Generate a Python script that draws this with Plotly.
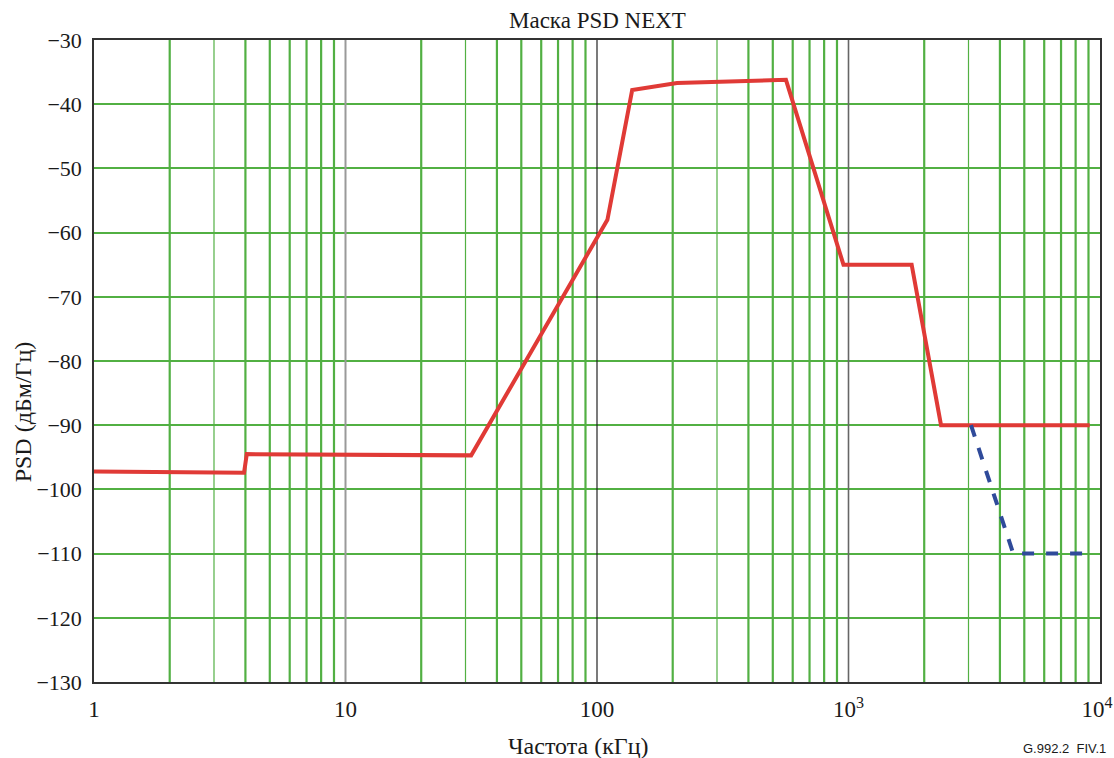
import plotly.graph_objects as go

# ---- data ----
red_x = [1, 3.95, 4.05, 31.6, 110, 138, 208, 564, 955, 1783, 2333, 9100]
red_y = [-97.2, -97.4, -94.5, -94.7, -58.0, -37.8, -36.7, -36.2, -65.0, -65.0, -90.0, -90.0]
blue_x = [3070, 4520, 9100]
blue_y = [-90.0, -110.0, -110.0]

y_ticks = [-30, -40, -50, -60, -70, -80, -90, -100, -110, -120, -130]
y_ticktext = ["\u2212" + str(abs(v)) for v in y_ticks]
x_ticks = [1, 10, 100, 1000, 10000]
x_ticktext = ["1", "10", "100", "10<sup>3</sup>", "10<sup>4</sup>&nbsp;"]

decades = [1, 10, 100, 1000]
minor_thick_mult = [2, 4, 5, 6, 7, 8, 9]
minor_thin_mult = [3]

GREEN = "#52b043"
YMIN, YMAX = -130, -30

fig = go.Figure()

def vlines(xs):
    X, Y = [], []
    for v in xs:
        X += [v, v, None]
        Y += [YMIN, YMAX, None]
    return X, Y

thick = [d * m for d in decades for m in minor_thick_mult]
thin = [d * m for d in decades for m in minor_thin_mult]
for xs, w in [(thick, 2.2), (thin, 1.2)]:
    X, Y = vlines(xs)
    fig.add_trace(go.Scatter(x=X, y=Y, mode="lines", line=dict(color=GREEN, width=w),
                             hoverinfo="skip", showlegend=False))
for xv, col, w in [(10, "#9a9a9a", 2), (100, "#222222", 1.2), (1000, "#666666", 1.6)]:
    X, Y = vlines([xv])
    fig.add_trace(go.Scatter(x=X, y=Y, mode="lines", line=dict(color=col, width=w),
                             hoverinfo="skip", showlegend=False))

fig.add_trace(go.Scatter(x=red_x, y=red_y, mode="lines",
                         line=dict(color="#e03a36", width=4), showlegend=False))
fig.add_trace(go.Scatter(x=blue_x, y=blue_y, mode="lines",
                         line=dict(color="#2f4a9a", width=4, dash="dash"), showlegend=False))

serif = "Liberation Serif, Times New Roman, serif"

fig.update_layout(
    width=1114, height=758, autosize=False,
    margin=dict(l=94, r=14, t=40, b=76),
    paper_bgcolor="white", plot_bgcolor="white",
    font=dict(family=serif, color="#1a1a1a"),
    showlegend=False,
    xaxis=dict(type="log", range=[0, 4], tickvals=x_ticks, ticktext=x_ticktext,
               automargin=False,
               showgrid=False, zeroline=False, showline=True, mirror=True,
               linecolor="#333333", linewidth=1.5, ticks="", ticklabelstandoff=6,
               ticklabeloverflow="allow",
               tickfont=dict(family=serif, size=23, color="#1a1a1a")),
    yaxis=dict(range=[YMIN, YMAX], tickvals=y_ticks, ticktext=y_ticktext,
               automargin=False,
               showgrid=True, gridcolor=GREEN, gridwidth=2, zeroline=False,
               showline=True, mirror=True, linecolor="#333333", linewidth=1.5,
               ticks="", ticklabelstandoff=6,
               tickfont=dict(family=serif, size=22, color="#1a1a1a")),
    annotations=[
        dict(text="Маска PSD NEXT", xref="paper", yref="paper", x=0.5, y=1,
             yshift=20, xanchor="center", yanchor="middle", showarrow=False,
             font=dict(family=serif, size=23, color="#1a1a1a")),
        dict(text="Частота (кГц)", xref="paper", yref="paper", x=0.482, y=0,
             yshift=-64, xanchor="center", yanchor="middle", showarrow=False,
             font=dict(family=serif, size=24, color="#1a1a1a")),
        dict(text="PSD (дБм/Гц)", xref="paper", yref="paper", x=0, y=0.42,
             xshift=-71, xanchor="center", yanchor="middle", textangle=-90,
             showarrow=False, font=dict(family=serif, size=24, color="#1a1a1a")),
        dict(text="G.992.2  FIV.1", xref="paper", yref="paper", x=1, y=0,
             xshift=8, yshift=-66, xanchor="right", yanchor="middle", showarrow=False,
             font=dict(family="Liberation Sans, Arial, sans-serif", size=13, color="#1a1a1a")),
    ],
)

fig.write_html("out.html",
               config={"responsive": False, "displayModeBar": False},
               post_script="document.body.style.margin='0';")
